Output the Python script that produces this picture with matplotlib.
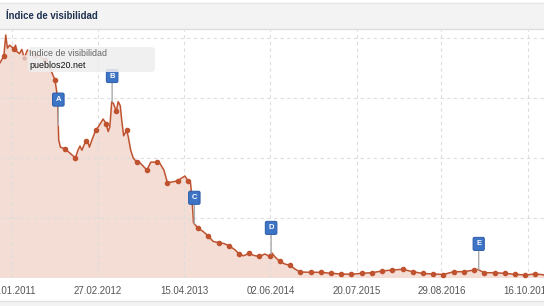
import matplotlib
matplotlib.use('Agg')
import matplotlib.pyplot as plt
import matplotlib.dates as mdates
import matplotlib.transforms as mtransforms
from matplotlib.patches import FancyBboxPatch, Rectangle
from matplotlib.lines import Line2D
import numpy as np
import pandas as pd

plt.rcParams['font.family'] = ['Liberation Sans', 'DejaVu Sans']

# ---- data -------------------------------------------------------------
title = 'Índice de visibilidad'
series_name = 'Indice de visibilidad'
domain = 'pueblos20.net'

# marked samples, one every 7 weeks
dot_start = '2010-12-02'
dot_step_days = 49
dot_vals = [3.70, 3.82, 3.67, 3.72, 3.63, 3.30, 2.15, 2.00, 2.28, 2.47,
            2.57, 2.78, 2.46, 1.93, 1.80, 1.93, 1.59, 1.62, 1.62, 0.83,
            0.70, 0.59, 0.54, 0.40, 0.41, 0.36, 0.36, 0.275, 0.21, 0.10,
            0.095, 0.095, 0.078, 0.067, 0.062, 0.078, 0.088, 0.117, 0.133, 0.145,
            0.105, 0.075, 0.067, 0.058, 0.105, 0.105, 0.133, 0.088, 0.088, 0.078,
            0.062, 0.05, 0.067, 0.05]
hover_index = 2

# unmarked intermediate samples
mid_dates = ['2010-11-04', '2010-12-11', '2010-12-19', '2010-12-29', '2011-01-27',
             '2011-02-03', '2011-02-15', '2011-02-26', '2011-03-25', '2011-05-22',
             '2011-07-11', '2011-08-16', '2011-08-22', '2011-08-30', '2011-10-15',
             '2011-11-22', '2011-12-02', '2011-12-11', '2012-01-09', '2012-01-16',
             '2012-01-28', '2012-02-28', '2012-03-22', '2012-04-15', '2012-04-23',
             '2012-05-02', '2012-05-10', '2012-06-02', '2012-06-12', '2012-06-19',
             '2012-06-28', '2012-07-20', '2012-08-01', '2012-08-13', '2012-09-14',
             '2012-09-28', '2012-11-05', '2012-12-19', '2013-01-07', '2013-02-15',
             '2013-04-04', '2013-04-18', '2013-05-15', '2013-05-22', '2013-05-29',
             '2013-07-14', '2013-08-31', '2013-10-21', '2013-12-14', '2014-01-23',
             '2014-03-15', '2014-05-06', '2014-06-08', '2014-06-24', '2014-08-10',
             '2014-09-27', '2017-02-20']
mid_vals = [3.53, 4.05, 3.83, 3.88, 3.88,
            3.77, 3.74, 3.81, 3.80, 3.70,
            3.50, 3.02, 2.30, 2.18, 2.08,
            2.13, 2.20, 2.13, 2.27, 2.18,
            2.30, 2.52, 2.65, 2.44, 2.52,
            2.94, 2.91, 2.94, 2.87, 2.63,
            2.37, 2.36, 2.13, 2.00, 1.92,
            1.87, 1.93, 1.91, 1.80, 1.60,
            1.67, 1.70, 1.58, 1.30, 0.92,
            0.775, 0.61, 0.575, 0.47, 0.37,
            0.375, 0.40, 0.42, 0.35, 0.233,
            0.15, 0.142]

event_dates = ['2011-08-20', '2012-05-04', '2013-06-02', '2014-06-05', '2017-02-24']
event_labels = ['A', 'B', 'C', 'D', 'E']

tick_dates = ['2011-01-10', '2012-02-27', '2013-04-15', '2014-06-02',
              '2015-07-20', '2016-08-29', '2017-10-16']
x_range = ['2010-11-13 12:00', '2018-01-03']
y_max = 4.133

# ---- build ------------------------------------------------------------
dot_dates = pd.date_range(dot_start, periods=len(dot_vals), freq=f'{dot_step_days}D')
line = pd.concat([
    pd.Series(dot_vals, index=dot_dates),
    pd.Series(mid_vals, index=pd.to_datetime(mid_dates)),
]).sort_index()

LINE = '#c0532f'
FILL = '#f3ddd5'

W, H = 544, 306
fig = plt.figure(figsize=(W / 100, H / 100), dpi=100)
fig.patch.set_facecolor('white')

ax = fig.add_axes([0, 28 / H, 1, (278 - 30) / H])
ax.set_facecolor('white')
ax.fill_between(line.index, line.values, 0, color=FILL, lw=0, zorder=1)
ax.plot(line.index, line.values, color=LINE, lw=1.1, zorder=3)
mask = np.arange(len(dot_vals)) != hover_index
ax.plot(dot_dates[mask], np.array(dot_vals)[mask], 'o', color=LINE, ms=3.0,
        mec=LINE, zorder=4)
ax.plot([dot_dates[hover_index]], [dot_vals[hover_index]], 'o', color='#dcb3a6',
        ms=4, mec='#f4e3dd', mew=0.8, zorder=4)

ax.set_xlim(pd.to_datetime(x_range[0]), pd.to_datetime(x_range[1]))
ax.set_ylim(0, y_max)
ax.set_yticks([1, 2, 3, 4])
ax.set_yticklabels([])
ticks = pd.to_datetime(tick_dates)
ax.set_xticks(ticks)
ax.set_xticklabels([t.strftime('%d.%m.%Y') for t in ticks])
ax.tick_params(axis='both', length=0)
ax.tick_params(axis='x', pad=6, labelsize=7, labelcolor='#555555')
ax.grid(True, linestyle=(0, (3, 3)), color='#dddddd', lw=0.8, zorder=2)
ax.set_axisbelow(False)
for s in ax.spines.values():
    s.set_visible(False)

xnum = mdates.date2num(line.index)
for d, lab in zip(pd.to_datetime(event_dates), event_labels):
    v = np.interp(mdates.date2num(d), xnum, line.values)
    ax.annotate(lab, xy=(d, v), xytext=(0, 26), textcoords='offset pixels',
                ha='center', va='center', color='white', fontsize=5.5,
                fontweight='bold', zorder=6,
                bbox=dict(boxstyle='round,pad=0.4,rounding_size=0.2',
                          fc='#3d74c5', ec='#2c5ca8', lw=0.7),
                arrowprops=dict(arrowstyle='-', color='#aaaaaa', lw=1,
                                shrinkA=0, shrinkB=0))

# ---- frame decorations (pixel coordinates) -----------------------------
ident = mtransforms.IdentityTransform()
fig.add_artist(Rectangle((0, H - 29), W, 26, transform=ident, fc='#f3f3f3',
                         ec='none', zorder=0))
fig.add_artist(Line2D([0, W], [H - 29, H - 29], transform=ident, color='#dedede', lw=1))
fig.add_artist(Line2D([0, W], [H - 3, H - 3], transform=ident, color='#e6e6e6', lw=1))
fig.add_artist(Rectangle((0, 0), W, 5, transform=ident, fc='#f3f3f3',
                         ec='none', zorder=0))
fig.add_artist(Line2D([0, W], [5, 5], transform=ident, color='#e2e2e2', lw=1))

fig.text(6 / W, 1 - 16 / H, title, fontsize=6.9, fontweight='bold',
         color='#1e3050', va='center', ha='left')

# tooltip
fig.add_artist(FancyBboxPatch((28, H - 72), 127, 25, transform=ident,
                              boxstyle='round,pad=0,rounding_size=4',
                              fc='#eeeeee', ec='none', alpha=0.88, zorder=5))
fig.text(29 / W, 1 - 54 / H, series_name, fontsize=6.4, color='#666666',
         va='center', ha='left', zorder=6)
fig.text(29 / W, 1 - 65.5 / H, domain, fontsize=6.4, color='#111111',
         va='center', ha='left', zorder=6)

fig.savefig('out.png', dpi=100)
